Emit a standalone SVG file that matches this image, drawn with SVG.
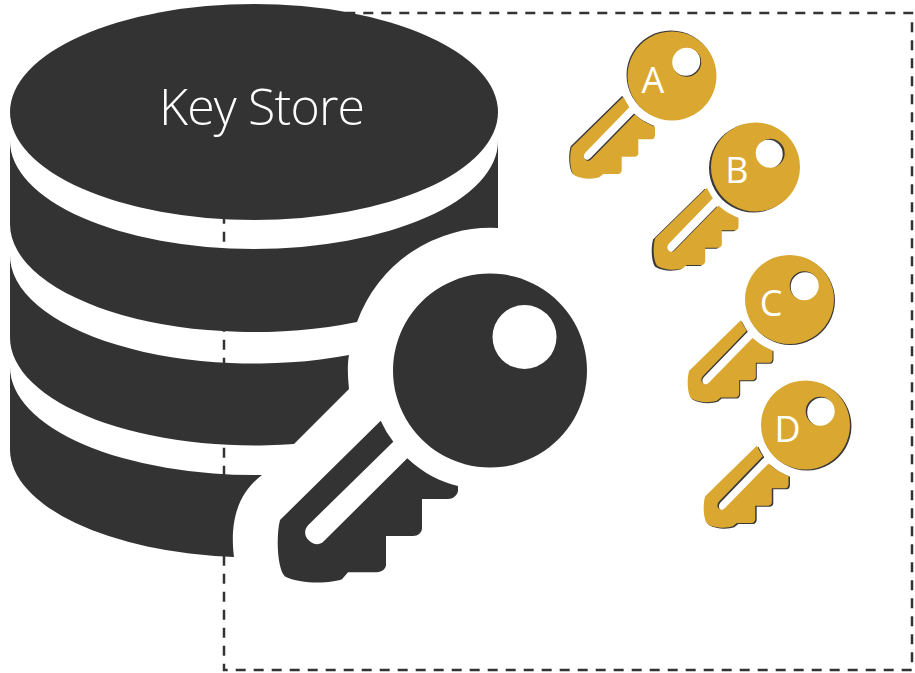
<svg xmlns="http://www.w3.org/2000/svg" width="915" height="673" viewBox="0 0 915 673">
<style>
.dark{fill:#333333}
.lbl{font-family:"Open Sans","Liberation Sans",sans-serif;font-size:36px;fill:#ffffff;text-anchor:middle}
.title{font-family:"Open Sans","Liberation Sans",sans-serif;font-weight:300;font-size:50px;fill:#ffffff}
.frame{fill:none;stroke:#333333;stroke-width:2.500;stroke-dasharray:10 8;stroke-dashoffset:4.700}
.gold{fill:#DAA830;fill-rule:evenodd}
.shadow{fill:#3a3a3a;fill-rule:evenodd}
</style>
<defs>
<path id="key" fill-rule="evenodd" d="M-109.300 50.200Q-104 62 -96.700 71.200L-181.700 154.500C-186 159 -186 166 -181 170C-177 174 -171 175 -167 171.500L-82.700 87.800C-65 104 -50 111 -32 115.500L-32 120.500C-33 125 -37 128.500 -42 128.500L-68 128.500L-68 157.500C-68 162 -72 165.500 -77 165.500L-104 165.500L-104 194.500C-104 198 -108 201.700 -113 201.700L-142 201.700L-148 208.800C-158 213 -190 214 -205 206C-213 198 -214 165 -210 149.500Z M0 -97A97 97 0 1 1 -0.010 -97Z M34.500 -65.500A32 32 0 1 0 34.510 -1.500A32 32 0 1 0 34.500 -65.500Z"/>
<path id="gkey" fill-rule="evenodd" d="M-48.700 20.700Q-46 26 -42.700 31.300L-86.500 76.500C-89 79.500 -88.500 83 -85.500 84.500C-83.500 85.500 -81.500 84 -80.500 83L-37 38.500C-30 45 -24 48 -17 50.700L-17 59C-17 61 -18 63.300 -20.300 63.300L-33.700 63.300L-33.700 77.300C-33.700 79 -35 80.700 -37 80.700L-50.300 80.700L-50.300 94C-50.300 96 -52 98 -53.700 98L-68.700 98L-72.700 101.300C-78 103 -90 104 -98 99C-102 95 -103 80 -100.300 71.300Z M0 -44.500A44.500 44.500 0 1 1 -0.010 -44.500Z M14.700 -28.200A14.500 14.500 0 1 0 14.710 0.800A14.500 14.500 0 1 0 14.700 -28.200Z"/>
</defs>
<rect class="frame" x="224" y="13" width="688" height="657"/>
<g id="key-store">
<ellipse class="dark" cx="254" cy="112" rx="244" ry="108"/>
<path class="dark" d="M10 141A244 108 0 0 0 498 141L498 228A142 142 0 0 0 357 322A244 108 0 0 1 10 224Z"/>
<path class="dark" d="M10 254A244 108 0 0 0 349 355C347 366 348 378 349 389L294 444A244 108 0 0 1 10 337Z"/>
<path class="dark" d="M10 367A244 108 0 0 0 262 475C246 487 228 510 234 557A244 108 0 0 1 10 450Z"/>
<text class="title" x="159" y="125" textLength="206" lengthAdjust="spacing">Key Store</text>
</g>
<g id="main-key"><use href="#key" class="dark" transform="translate(490 370.500)"/></g>
<g id="key-a"><use href="#gkey" class="shadow" transform="translate(671 75)"/><use href="#gkey" class="gold" transform="translate(672 76)"/><text class="lbl" x="653" y="93">A</text></g>
<g id="key-b"><use href="#gkey" class="shadow" transform="translate(753.500 168)"/><use href="#gkey" class="gold" transform="translate(755.500 167)"/><text class="lbl" x="737" y="183">B</text></g>
<g id="key-c"><use href="#gkey" class="shadow" transform="translate(790.500 300.500)"/><use href="#gkey" class="gold" transform="translate(789.500 299.500)"/><text class="lbl" x="771" y="316">C</text></g>
<g id="key-d"><use href="#gkey" class="shadow" transform="translate(807 426)"/><use href="#gkey" class="gold" transform="translate(805.500 425)"/><text class="lbl" x="787.500" y="441.500">D</text></g>
</svg>
